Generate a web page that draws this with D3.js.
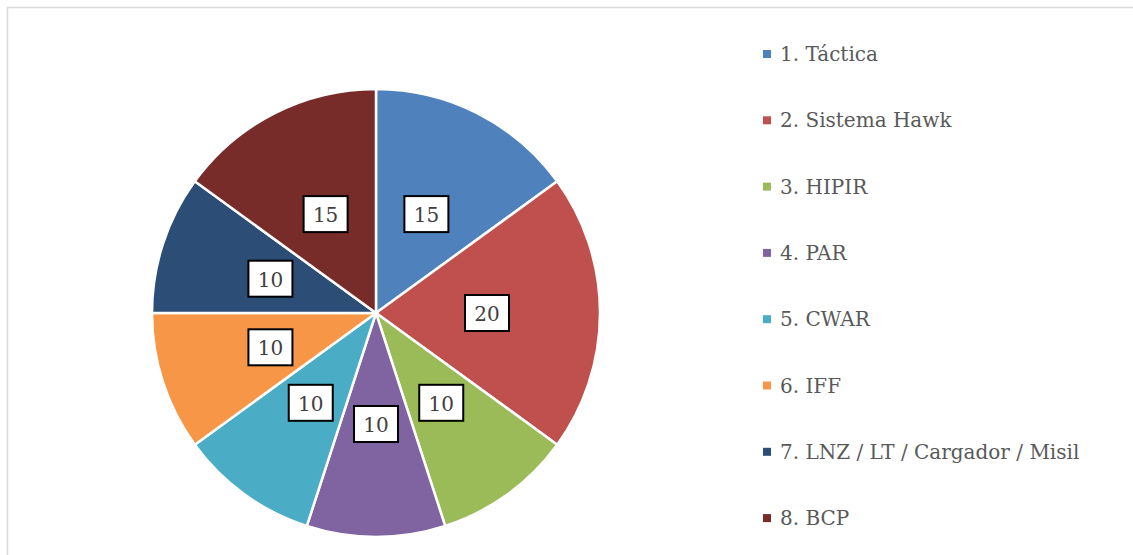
<!DOCTYPE html>
<html>
<head>
<meta charset="utf-8">
<script src="https://cdn.jsdelivr.net/npm/d3@7"></script>
<style>
  body { margin: 0; background: #fff; }
</style>
</head>
<body>
<div id="chart"></div>
<script>
var categories = ["1. Táctica", "2. Sistema Hawk", "3. HIPIR", "4. PAR", "5. CWAR", "6. IFF", "7. LNZ / LT / Cargador / Misil", "8. BCP"];
var values = [15, 20, 10, 10, 10, 10, 10, 15];
var colors = ["#4F81BD", "#C0504D", "#9BBB59", "#8064A2", "#4BACC6", "#F79646", "#2C4D75", "#772C2A"];

var width = 1133,
    height = 555;

var svg = d3.select("#chart")
    .append("svg")
    .attr("width", width)
    .attr("height", height);

// chart border
svg.append("rect")
    .attr("x", 7.5)
    .attr("y", 7.5)
    .attr("width", width)
    .attr("height", height)
    .style("fill", "none")
    .style("stroke", "#d9d9d9")
    .style("stroke-width", 1.5);

var data = categories.map(function(c, i) {
    return { name: c, value: values[i], color: colors[i] };
});

var radius = 224;
var pie = d3.pie().sort(null).value(function(d) { return d.value; });
var arc = d3.arc().innerRadius(0).outerRadius(radius);
var labelArc = d3.arc().innerRadius(111).outerRadius(111);

var g = svg.append("g")
    .attr("transform", "translate(376,313)");

var arcs = pie(data);

g.selectAll("path")
    .data(arcs)
    .enter()
    .append("path")
    .attr("d", arc)
    .style("fill", function(d) { return d.data.color; })
    .style("stroke", "#fff")
    .style("stroke-width", 2.5);

var labels = g.selectAll("g.label")
    .data(arcs)
    .enter()
    .append("g")
    .attr("class", "label")
    .attr("transform", function(d) {
        var c = labelArc.centroid(d);
        return "translate(" + c[0] + "," + c[1] + ")";
    });

labels.append("rect")
    .attr("x", -22)
    .attr("y", -18)
    .attr("width", 44)
    .attr("height", 36)
    .style("fill", "#fff")
    .style("stroke", "#000")
    .style("stroke-width", 2);

labels.append("text")
    .attr("y", 1)
    .text(function(d) { return d.data.value; })
    .style("font-family", "DejaVu Serif")
    .style("font-size", "20px")
    .style("fill", "#404040")
    .style("text-anchor", "middle")
    .style("dominant-baseline", "central");

// legend
var legend = svg.append("g")
    .attr("transform", "translate(763,54)");

data.forEach(function(d, i) {
    var item = legend.append("g")
        .attr("transform", "translate(0," + (i * 66.3) + ")");
    item.append("rect")
        .attr("x", 0)
        .attr("y", -4)
        .attr("width", 8)
        .attr("height", 8)
        .style("fill", d.color);
    item.append("text")
        .attr("x", 17)
        .attr("y", 0)
        .text(d.name)
        .style("font-family", "DejaVu Serif")
        .style("font-size", "20px")
        .style("fill", "#595959")
        .style("dominant-baseline", "central");
});
</script>
</body>
</html>
